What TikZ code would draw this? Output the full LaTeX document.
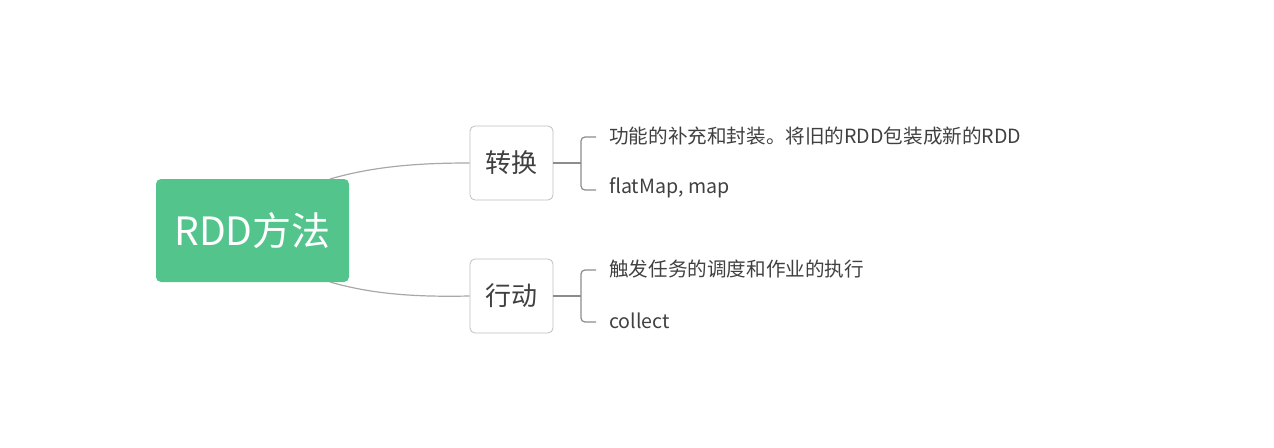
\documentclass[tikz,border=0pt]{standalone}
\usepackage{fontspec}
\setmainfont{Noto Sans CJK SC}
\definecolor{rootgreen}{HTML}{52C48C}
\definecolor{boxline}{HTML}{BFBFBF}
\definecolor{txt}{HTML}{404040}
\definecolor{curve}{HTML}{A8A8A8}
\definecolor{brk}{HTML}{8C8C8C}
\tikzset{
  rootbox/.style={fill=rootgreen, draw=none, rounded corners=5pt, minimum width=193pt, minimum height=103pt, inner sep=0pt, text=white, font=\fontsize{39}{44}\selectfont},
  subbox/.style={fill=white, draw=boxline, line width=0.8pt, rounded corners=5pt, minimum width=83pt, minimum height=74pt, inner sep=0pt, text=txt, font=\fontsize{26}{30}\selectfont},
  leaf/.style={anchor=west, inner sep=0pt, text=txt, font=\fontsize{19.6}{22}\selectfont},
  link/.style={draw=curve, line width=1.2pt},
  bracket/.style={draw=brk, line width=1.2pt, rounded corners=4pt}
}
\begin{document}
\begin{tikzpicture}[x=1pt,y=-1pt]
\useasboundingbox (0,0) rectangle (1274,447);
\node[rootbox] (root) at (252.5,230.5) {RDD方法};
\node[subbox] (zh) at (511.5,163) {转换};
\node[subbox] (xd) at (511.5,296) {行动};
\coordinate (r1) at (330,179);
\coordinate (r2) at (330,282);
\draw[link] (r1) .. controls (375,166) and (420,163) .. (zh.west);
\draw[link] (r2) .. controls (375,295) and (420,297) .. (xd.west);
% leaves
\node[leaf] (l1) at (609,136) {功能的补充和封装。将旧的RDD包装成新的RDD};
\node[leaf] (l2) at (609,188) {flatMap, map};
\node[leaf] (l3) at (609,269) {触发任务的调度和作业的执行};
\node[leaf] (l4) at (609,321) {collect};
% brackets
\coordinate (b1) at (581,163);
\coordinate (b2) at (581,296);
\draw[brk, line width=1.2pt] (zh.east) -- (b1);
\draw[bracket] (596,137) -- (581,137) -- (581,190) -- (596,190);
\draw[brk, line width=1.2pt] (xd.east) -- (b2);
\draw[bracket] (596,270) -- (581,270) -- (581,322) -- (596,322);
\end{tikzpicture}
\end{document}
